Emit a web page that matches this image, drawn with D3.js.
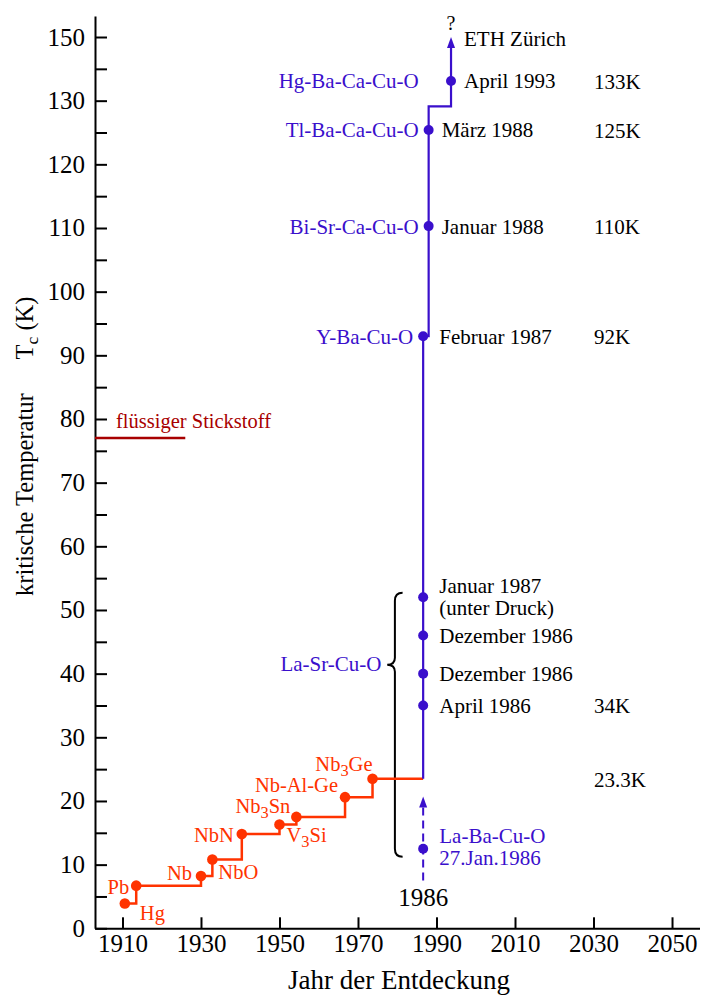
<!DOCTYPE html>
<html><head><meta charset="utf-8">
<script src="https://cdn.jsdelivr.net/npm/d3@7"></script>
<style>
body{margin:0;background:#fff;}
svg text{font-family:"Liberation Serif","Times New Roman",serif;}
</style></head><body>
<svg id="c" width="701" height="996"></svg>
<script>
// ---------- data ----------
const yTickValues = [0,10,20,30,40,50,60,70,80,90,100,110,120,130,140];
const yTickLabels = ["0","10","20","30","40","50","60","70","80","90","100","110","120","130","150"];
const yMinorTicks = [5,15,25,35,45,55,65,75,85,95,105,115,125,135];
const xTickValues = [1910,1930,1950,1970,1990,2010,2030,2050];
const xTickLabels = ["1910","1930","1950","1970","1990","2010","2030","2050"];

// conventional superconductors
const lowTcNames  = ["Hg","Pb","Nb","NbO","NbN","V3Si","Nb3Sn","Nb-Al-Ge","Nb3Ge"];
const lowTcYears  = [1910.6,1913.5,1930,1932.9,1940.4,1950,1954.3,1966.7,1973.7];
const lowTcValues = [3.9,6.7,8.2,10.8,14.8,16.3,17.5,20.6,23.5];

// cuprates
const cuprateNames  = ["","","","","","Y-Ba-Cu-O","Bi-Sr-Ca-Cu-O","Tl-Ba-Ca-Cu-O","Hg-Ba-Ca-Cu-O"];
const cuprateYears  = [1986.6,1986.6,1986.6,1986.6,1986.6,1986.6,1988,1988,1993.7];
const cuprateValues = [12.5,35,40,46,52,93,110.3,125.4,133.1];
const cuprateDates  = [["La-Ba-Cu-O","27.Jan.1986"],["April 1986"],["Dezember 1986"],["Dezember 1986"],
                       ["Januar 1987","(unter Druck)"],["Februar 1987"],["Januar 1988"],["März 1988"],["April 1993"]];
const cuprateLineYears  = [1986.6,1986.6,1988,1988,1993.7,1993.7];
const cuprateLineValues = [23.5,93,93,129.1,129.1,140];

const recordLabels = ["23.3K","34K","92K","110K","125K","133K"];
const recordValues = [23.5,35,93,110.3,125.4,133.1];

const laBaArrowFrom = 7.5, laBaArrowTo = 20.7;
const braceYear = 1979.4, braceTop = 52.7, braceBottom = 11.25, braceTip = 41.4;
const nitrogenTc = 77, nitrogenYearEnd = 1926;

// ---------- layout / style ----------
const BLUE = "#3a0fcc", RED = "#ff3300", DARKRED = "#a80000";
const redLabelPlace = [ // anchor, dx, dy(baseline)
  ["start",15,17],["end",-7,8],["end",-9,4],["start",6,19],["end",-8,8],
  ["start",7,17],["end",-6,-4],["end",-7,-5.5],["end",0,-8]];

const svg = d3.select("#c");
const x = d3.scaleLinear().domain([1903, 2057]).range([95, 699.5]);
const y = d3.scaleLinear().domain([0, 143.3]).range([928.3, 16]);

// y axis
const yAll = yTickValues.concat(yMinorTicks).sort((a,b)=>a-b);
const yAxis = d3.axisLeft(y).tickValues(yAll).tickSize(-12).tickSizeOuter(0).tickPadding(10)
  .tickFormat(d => { const i = yTickValues.indexOf(d); return i >= 0 ? yTickLabels[i] : ""; });
const gy = svg.append("g").attr("transform","translate(95,0)").call(yAxis);
// x axis
const xAxis = d3.axisBottom(x).tickValues(xTickValues).tickSize(-11).tickSizeOuter(0).tickPadding(6)
  .tickFormat((d,i) => xTickLabels[i]);
const gx = svg.append("g").attr("transform","translate(0,928.3)").call(xAxis);
[gx, gy].forEach(g => {
  g.select(".domain").attr("stroke","#000").attr("stroke-width",2);
  g.selectAll(".tick line").attr("stroke","#000").attr("stroke-width",2);
  g.selectAll(".tick text").attr("fill","#000").attr("font-size",25)
    .attr("font-family","'Liberation Serif','Times New Roman',serif");
});

// axis titles
const yl = svg.append("text").attr("transform","translate(33,596) rotate(-90)")
  .attr("font-size",24.5).attr("fill","#000");
yl.append("tspan").text("kritische Temperatur");
yl.append("tspan").attr("dx",34).text("T");
yl.append("tspan").attr("dy",5).attr("font-size","0.72em").text("c");
yl.append("tspan").attr("dy",-5).attr("dx",6).text("(K)");

svg.append("text").attr("x",399).attr("y",989).attr("text-anchor","middle")
  .attr("font-size",27).attr("fill","#000").text("Jahr der Entdeckung");

// liquid nitrogen
svg.append("line").attr("x1",x(1903)).attr("x2",x(nitrogenYearEnd))
  .attr("y1",y(nitrogenTc)).attr("y2",y(nitrogenTc))
  .attr("stroke",DARKRED).attr("stroke-width",2.5);
svg.append("text").attr("x",x(1903)+21).attr("y",y(nitrogenTc)-10)
  .attr("font-size",20.5).attr("fill",DARKRED).text("flüssiger Stickstoff");

// brace
const bx = x(braceYear), bh = bx + 7.7, bt = bx - 7.7;
const yT = y(braceTop), yB = y(braceBottom), yM = y(braceTip);
svg.append("path").attr("fill","none").attr("stroke","#000").attr("stroke-width",2)
  .attr("d", `M${bh},${yT} Q${bx},${yT} ${bx},${yT+8} L${bx},${yM-7} Q${bx},${yM} ${bt},${yM} Q${bx},${yM} ${bx},${yM+7} L${bx},${yB-8} Q${bx},${yB} ${bh},${yB}`);
svg.append("text").attr("x",bt-5.7).attr("y",yM+6.7).attr("text-anchor","end")
  .attr("font-size",21).attr("fill",BLUE).text("La-Sr-Cu-O");

// red step line
const redPts = lowTcYears.map((yr,i)=>[yr, lowTcValues[i]])
  .concat([[cuprateLineYears[0], cuprateLineValues[0]]]);
const line = d3.line().x(d=>x(d[0])).y(d=>y(d[1]));
svg.append("path").attr("fill","none").attr("stroke",RED).attr("stroke-width",2.5)
  .attr("d", line.curve(d3.curveStepAfter)(redPts));
svg.selectAll("circle.red").data(lowTcYears).join("circle").attr("class","red")
  .attr("cx",d=>x(d)).attr("cy",(d,i)=>y(lowTcValues[i])).attr("r",5.3).attr("fill",RED);

function formula(sel, str) {
  let sub = false;
  str.split(/(\d+)/).filter(s=>s.length).forEach(p => {
    if (/^\d+$/.test(p)) { sel.append("tspan").attr("dy",5).attr("font-size","0.8em").text(p); sub = true; }
    else { const t = sel.append("tspan").text(p); if (sub) { t.attr("dy",-5); sub = false; } }
  });
}
lowTcNames.forEach((n,i) => {
  const pl = redLabelPlace[i];
  const t = svg.append("text").attr("x",x(lowTcYears[i])+pl[1]).attr("y",y(lowTcValues[i])+pl[2])
    .attr("text-anchor",pl[0]).attr("font-size",20.5).attr("fill",RED);
  formula(t, n);
});

// blue line
const bluePts = cuprateLineYears.map((yr,i)=>[yr, cuprateLineValues[i]]);
const tip = bluePts[bluePts.length-1];
const shortened = bluePts.map((p,i)=> i===bluePts.length-1 ? [p[0], y.invert(y(p[1])+6)] : p);
svg.append("path").attr("fill","none").attr("stroke",BLUE).attr("stroke-width",2.2)
  .attr("d", d3.line().x(d=>x(d[0])).y(d=>y(d[1]))(shortened));
function arrowHead(yr, val) {
  const ax = x(yr), ay = y(val);
  svg.append("path").attr("fill",BLUE).attr("d",`M${ax},${ay} L${ax+4},${ay+11} L${ax-4},${ay+11} Z`);
}
arrowHead(tip[0], tip[1]);
svg.append("text").attr("x",x(tip[0])).attr("y",y(tip[1])-7).attr("text-anchor","middle")
  .attr("font-size",20).attr("fill","#000").text("?");
svg.append("text").attr("x",x(tip[0])+13).attr("y",y(tip[1])+8.5)
  .attr("font-size",21).attr("fill","#000").text("ETH Zürich");

// dashed La-Ba-Cu-O arrow
svg.append("line").attr("x1",x(cuprateYears[0])).attr("x2",x(cuprateYears[0]))
  .attr("y1",y(laBaArrowFrom)).attr("y2",y(laBaArrowTo)+8)
  .attr("stroke",BLUE).attr("stroke-width",2).attr("stroke-dasharray","8,5");
arrowHead(cuprateYears[0], laBaArrowTo);
svg.append("text").attr("x",x(cuprateYears[0])).attr("y",y(0)-22).attr("text-anchor","middle")
  .attr("font-size",25).attr("fill","#000").text("1986");

// cuprate points
svg.selectAll("circle.blue").data(cuprateYears).join("circle").attr("class","blue")
  .attr("cx",d=>x(d)).attr("cy",(d,i)=>y(cuprateValues[i])).attr("r",5).attr("fill",BLUE);

const dateCol = x(1990.7), nameCol = x(1988) - 10;
cuprateDates.forEach((lines,i) => {
  const px = x(cuprateYears[i]), py = y(cuprateValues[i]);
  const tx = Math.max(px + 13, dateCol);
  const offs = lines.length === 1 ? [7.5] : (i === 0 ? [-5.5, 16.5] : [-4, 18]);
  lines.forEach((s,j) => {
    svg.append("text").attr("x",tx).attr("y",py+offs[j]).attr("font-size",21)
      .attr("fill", i === 0 ? BLUE : "#000").text(s);
  });
  if (cuprateNames[i]) {
    svg.append("text").attr("x",Math.min(px - 10, nameCol)).attr("y",py+7.5).attr("text-anchor","end")
      .attr("font-size",21).attr("fill",BLUE).text(cuprateNames[i]);
  }
});

// record values column
recordLabels.forEach((s,i) => {
  svg.append("text").attr("x",x(2030.1)).attr("y",y(recordValues[i])+8)
    .attr("font-size",21).attr("fill","#000").text(s);
});
</script>
</body></html>
